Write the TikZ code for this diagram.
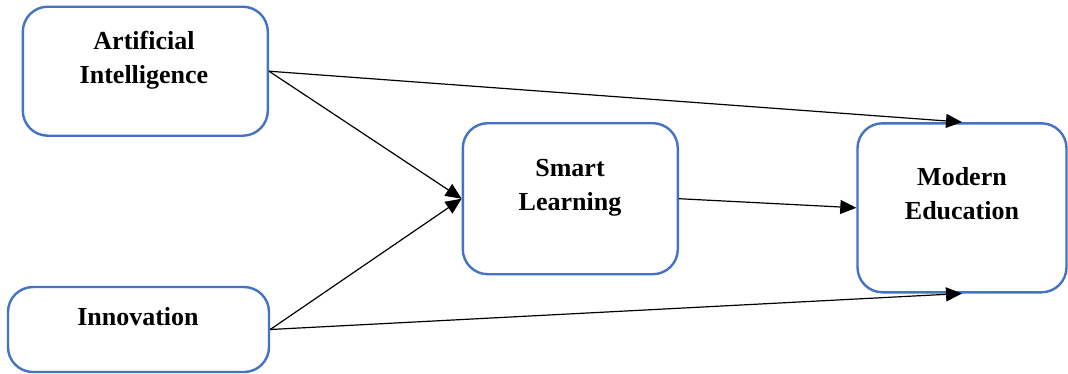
\documentclass[tikz,border=0pt]{standalone}
\usepackage{fontspec}
\setmainfont{Liberation Serif}
\usetikzlibrary{arrows.meta}
\definecolor{boxblue}{HTML}{4472C4}
\tikzset{
  box/.style={draw=boxblue, line width=2.4pt, rounded corners=25pt, fill=white, inner sep=0pt},
  lbl/.style={font=\fontsize{26}{34}\selectfont\bfseries, align=center, inner sep=0pt},
  conn/.style={line width=1.2pt, -{Triangle[length=16pt,width=14pt]}}
}
\begin{document}
\begin{tikzpicture}[x=1pt,y=-1pt]
\useasboundingbox (0,0) rectangle (1068,373);
\node[box, minimum width=245pt, minimum height=129pt] (ai) at (145.3,71.2) {};
\node[box, minimum width=261pt, minimum height=85pt] (inn) at (138.5,329.5) {};
\node[box, minimum width=215pt, minimum height=151pt] (sl) at (570.3,198.7) {};
\node[box, minimum width=209pt, minimum height=169pt] (me) at (962,207.8) {};
\node[lbl] (tai) at (144,60) {Artificial\\Intelligence};
\node[lbl] (tinn) at (138,317) {Innovation};
\node[lbl] (tsl) at (570,187.4) {Smart\\Learning};
\node[lbl] (tme) at (962,193.7) {Modern\\Education};
\draw[conn] (ai.east) -- (me.north);
\draw[conn] (ai.east) -- (sl.west);
\draw[conn] (inn.east) -- (sl.west);
\draw[conn] (inn.east) -- (me.south);
\draw[conn] (sl.east) -- (me.west);
\end{tikzpicture}
\end{document}
